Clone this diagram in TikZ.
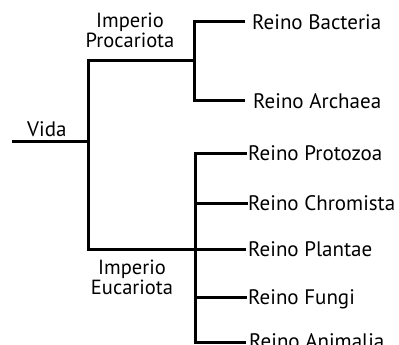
\documentclass[tikz,border=0pt]{standalone}
\usepackage{fontspec}
\setmainfont{PT Sans}
\begin{document}
\begin{tikzpicture}[x=1pt,y=-1pt,
  br/.style={line width=3pt,line cap=rect},
  lbl/.style={inner sep=0pt,anchor=base west,font=\fontsize{21}{18}\selectfont},
  imp/.style={inner sep=0pt,align=center,font=\fontsize{20.5}{18}\selectfont}]
\clip (0,0) rectangle (399,345);
\fill[white] (0,0) rectangle (399,345);
% junction coordinates
\coordinate (v0) at (12,141);
\coordinate (v1) at (88,141);
\coordinate (pt) at (88,61);
\coordinate (et) at (88,249);
\coordinate (pj) at (194,61);
\coordinate (ej) at (195,249);
\coordinate (b0) at (194,22);
\coordinate (a0) at (194,100);
\coordinate (z0) at (195,153);
\coordinate (c0) at (195,203);
\coordinate (f0) at (195,297);
\coordinate (n0) at (195,342);
% labels
\node[lbl] (vida) at (27,136) {Vida};
\node[imp] (proc) at (130,30.5) {Imperio\\Procariota};
\node[imp] (euca) at (132,277.5) {Imperio\\Eucariota};
\node[lbl] (bac) at (252,29.5) {Reino Bacteria};
\node[lbl] (arc) at (253,108) {Reino Archaea};
\node[lbl] (pro) at (248,160) {Reino Protozoa};
\node[lbl] (chr) at (248,210) {Reino Chromista};
\node[lbl] (pla) at (248,256) {Reino Plantae};
\node[lbl] (fun) at (248,304) {Reino Fungi};
\node[lbl] (ani) at (249,348) {Reino Animalia};
% branches
\draw[br,line cap=butt] (v0) -- (v1);
\draw[br] (pt) -- (et);
\draw[br] (pt) -- (pj);
\draw[br] (et) -- (ej);
\draw[br] (b0) -- (a0);
\draw[br] (z0) -- (n0);
\draw[br] (b0) -- ++(49,0);
\draw[br] (a0) -- ++(49,0);
\draw[br] (z0) -- ++(50,0);
\draw[br] (c0) -- ++(51,0);
\draw[br] (ej) -- ++(49,0);
\draw[br] (f0) -- ++(50,0);
\draw[br] (n0) -- ++(49,0);
\end{tikzpicture}
\end{document}
